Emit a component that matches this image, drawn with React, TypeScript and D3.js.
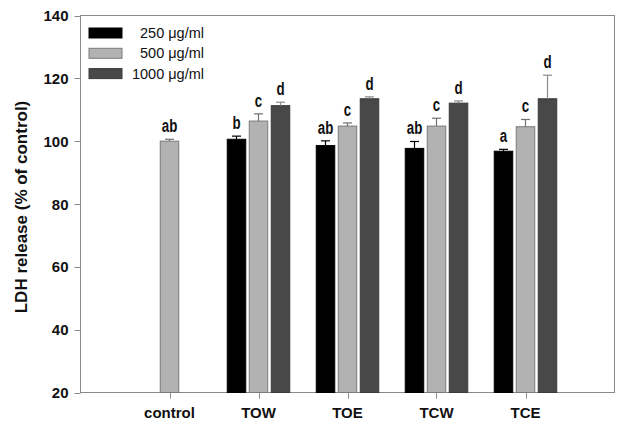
import React from "react";
import * as d3 from "d3";

const categories = ["control", "TOW", "TOE", "TCW", "TCE"];
const seriesNames = ["250 μg/ml", "500 μg/ml", "1000 μg/ml"];
// values per category for each series (null = no bar)
const s250: (number | null)[] = [null, 100.6, 98.6, 97.7, 96.8];
const s500: (number | null)[] = [100.0, 106.4, 104.8, 104.8, 104.6];
const s1000: (number | null)[] = [null, 111.3, 113.5, 112.1, 113.5];
const e250: (number | null)[] = [null, 1.0, 1.5, 2.2, 0.6];
const e500: (number | null)[] = [0.6, 2.3, 1.0, 2.5, 2.3];
const e1000: (number | null)[] = [null, 1.1, 0.6, 0.7, 7.5];
const l250 = ["", "b", "ab", "ab", "a"];
const l500 = ["ab", "c", "c", "c", "c"];
const l1000 = ["", "d", "d", "d", "d"];
const yTicks = [20, 40, 60, 80, 100, 120, 140];

const fills = ["#000000", "#b2b2b2", "#484848"];
const strokes = ["#000000", "#7a7a7a", "#3a3a3a"];
const errColors = ["#000000", "#707070", "#8a8a8a"];

export default function App() {
  const W = 621, H = 424;
  const left = 80.5, right = 614.5, top = 15.5, bottom = 392.5;
  const x = d3.scaleLinear().domain([0, 6]).range([left, right]);
  const y = d3.scaleLinear().domain([20, 140]).range([bottom, top]);
  const barW = 18.5;
  const step = 22;
  const series = [
    { vals: s250, errs: e250, labels: l250 },
    { vals: s500, errs: e500, labels: l500 },
    { vals: s1000, errs: e1000, labels: l1000 },
  ];
  const bold = "'Liberation Sans', Arial, sans-serif";

  return (
    <svg width={W} height={H} style={{ position: "absolute", left: 0, top: 0, background: "#fff" }}>
      <rect x={0} y={0} width={W} height={H} fill="#fff" />
      {/* frame */}
      <rect x={left} y={top} width={right - left} height={bottom - top} fill="none" stroke="#8a8a8a" strokeWidth={1} />
      {/* y ticks */}
      {yTicks.map((t) => (
        <g key={t}>
          <line x1={left - 6} x2={left} y1={Math.round(y(t)) + 0.5} y2={Math.round(y(t)) + 0.5} stroke="#8a8a8a" />
          <text x={left - 12} y={y(t) + 5.5} textAnchor="end" fontFamily={bold} fontWeight="bold" fontSize={15} fill="#111">
            {t}
          </text>
        </g>
      ))}
      {/* x ticks */}
      {categories.map((c, i) => (
        <g key={c}>
          <line x1={Math.round(x(i + 1)) + 0.5} x2={Math.round(x(i + 1)) + 0.5} y1={bottom} y2={bottom + 6} stroke="#8a8a8a" />
          <text x={x(i + 1)} y={418} textAnchor="middle" fontFamily={bold} fontWeight="bold" fontSize={15} fill="#111">
            {c}
          </text>
        </g>
      ))}
      {/* bars */}
      {categories.map((c, i) =>
        series.map((s, k) => {
          const v = s.vals[i];
          if (v == null) return null;
          const off = i === 0 ? 0 : (k - 1) * step;
          const cx = x(i + 1) + off;
          const e = s.errs[i] ?? 0;
          const yTop = y(v);
          const yErr = y(v + e);
          return (
            <g key={c + k}>
              <rect x={cx - barW / 2} y={yTop} width={barW} height={bottom - yTop} fill={fills[k]} stroke={strokes[k]} strokeWidth={1} />
              <line x1={cx} x2={cx} y1={yTop} y2={yErr} stroke={errColors[k]} strokeWidth={1.2} />
              <line x1={cx - 4.5} x2={cx + 4.5} y1={yErr} y2={yErr} stroke={errColors[k]} strokeWidth={1.2} />
              <text
                transform={`translate(${cx},${yErr - 7}) scale(0.72,1)`}
                textAnchor="middle"
                fontFamily={bold}
                fontWeight="bold"
                fontSize={18.5}
                fill="#111"
              >
                {s.labels[i]}
              </text>
            </g>
          );
        })
      )}
      {/* legend */}
      {seriesNames.map((nm, k) => {
        const cy = 33 + k * 20.3;
        return (
          <g key={nm}>
            <rect x={89} y={cy - 5} width={33} height={10} fill={fills[k]} stroke={strokes[k]} />
            <text x={204} y={cy + 5} textAnchor="end" fontFamily={bold} fontSize={14.5} fill="#111">
              {nm}
            </text>
          </g>
        );
      })}
      {/* y title */}
      <text
        transform={`translate(27,${207}) rotate(-90)`}
        textAnchor="middle"
        fontFamily={bold}
        fontWeight="bold"
        fontSize={17}
        fill="#111"
      >
        LDH release (% of control)
      </text>
    </svg>
  );
}
